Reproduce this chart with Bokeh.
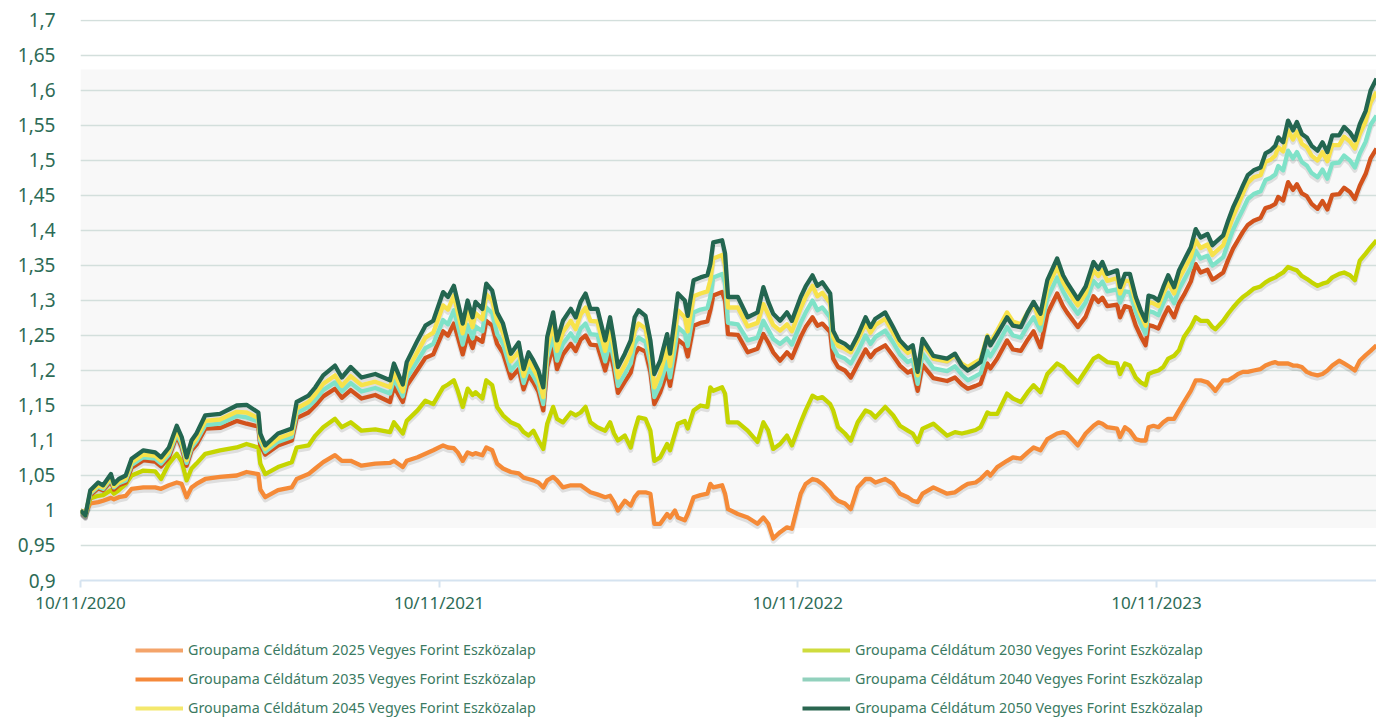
import pandas as pd
from bokeh.plotting import figure
from bokeh.layouts import column
from bokeh.models import (ColumnDataSource, FixedTicker, DatetimeTickFormatter, BoxAnnotation,
                          Legend, LegendItem, Range1d)
from bokeh.transform import dodge
from bokeh.embed import file_html
from bokeh.resources import INLINE

# ---------------- data ----------------
dates = [
    # 2020
    "2020-11-10", "2020-11-15", "2020-11-20", "2020-11-28", "2020-12-03", "2020-12-11", "2020-12-14", "2020-12-19", "2020-12-26",
    # 2021
    "2021-01-01", "2021-01-13", "2021-01-25", "2021-01-31", "2021-02-08", "2021-02-16", "2021-02-21", "2021-02-26", "2021-03-03", "2021-03-08",
    "2021-03-17", "2021-04-01", "2021-04-18", "2021-04-28", "2021-05-10", "2021-05-12", "2021-05-17", "2021-05-30", "2021-06-13", "2021-06-18",
    "2021-06-30", "2021-07-07", "2021-07-15", "2021-07-27", "2021-08-03", "2021-08-12", "2021-08-23", "2021-09-06", "2021-09-21", "2021-09-25",
    "2021-10-04", "2021-10-08", "2021-10-19", "2021-10-27", "2021-11-04", "2021-11-14", "2021-11-19", "2021-11-25", "2021-11-29", "2021-12-04",
    "2021-12-09", "2021-12-14", "2021-12-17", "2021-12-24", "2021-12-28",
    # 2022
    "2022-01-03", "2022-01-08", "2022-01-14", "2022-01-22", "2022-01-30", "2022-02-04", "2022-02-09", "2022-02-14", "2022-02-19", "2022-02-24",
    "2022-02-28", "2022-03-06", "2022-03-10", "2022-03-16", "2022-03-24", "2022-03-29", "2022-04-03", "2022-04-08", "2022-04-13", "2022-04-20",
    "2022-04-28", "2022-05-03", "2022-05-07", "2022-05-11", "2022-05-18", "2022-05-24", "2022-05-28", "2022-06-01", "2022-06-08", "2022-06-13",
    "2022-06-17", "2022-06-23", "2022-06-30", "2022-07-03", "2022-07-08", "2022-07-11", "2022-07-18", "2022-07-21", "2022-07-27", "2022-08-03",
    "2022-08-10", "2022-08-13", "2022-08-16", "2022-08-25", "2022-08-28", "2022-08-31", "2022-09-10", "2022-09-20", "2022-09-30", "2022-10-06",
    "2022-10-11", "2022-10-16", "2022-10-23", "2022-10-30", "2022-11-04", "2022-11-13", "2022-11-18", "2022-11-25", "2022-11-30", "2022-12-05",
    "2022-12-13", "2022-12-16", "2022-12-21", "2022-12-28",
    # 2023
    "2023-01-03", "2023-01-10", "2023-01-18", "2023-01-23", "2023-01-28", "2023-02-07", "2023-02-15", "2023-02-22", "2023-03-02", "2023-03-07",
    "2023-03-12", "2023-03-17", "2023-03-28", "2023-04-11", "2023-04-19", "2023-04-26", "2023-05-02", "2023-05-10", "2023-05-15", "2023-05-22",
    "2023-05-25", "2023-06-01", "2023-06-11", "2023-06-17", "2023-06-25", "2023-07-02", "2023-07-08", "2023-07-15", "2023-07-22", "2023-08-01",
    "2023-08-07", "2023-08-11", "2023-08-22", "2023-08-30", "2023-09-07", "2023-09-12", "2023-09-16", "2023-09-21", "2023-10-01", "2023-10-04",
    "2023-10-09", "2023-10-14", "2023-10-20", "2023-10-25", "2023-10-30", "2023-11-02", "2023-11-07", "2023-11-12", "2023-11-17", "2023-11-22",
    "2023-11-28", "2023-12-03", "2023-12-08", "2023-12-15", "2023-12-20", "2023-12-25",
    # 2024
    "2024-01-01", "2024-01-06", "2024-01-09", "2024-01-17", "2024-01-22", "2024-01-27", "2024-02-01", "2024-02-06", "2024-02-11", "2024-02-17",
    "2024-02-24", "2024-02-29", "2024-03-05", "2024-03-10", "2024-03-13", "2024-03-18", "2024-03-23", "2024-03-28", "2024-04-01", "2024-04-06",
    "2024-04-11", "2024-04-16", "2024-04-22", "2024-04-27", "2024-05-02", "2024-05-07", "2024-05-14", "2024-05-19", "2024-05-25", "2024-05-30",
    "2024-06-04", "2024-06-10", "2024-06-15", "2024-06-21",
]

v2050 = [
    1.000, 0.993, 1.029, 1.040, 1.036, 1.052, 1.038, 1.045, 1.050,
    1.074, 1.086, 1.083, 1.076, 1.090, 1.121, 1.105, 1.076, 1.100, 1.110,
    1.136, 1.138, 1.150, 1.151, 1.140, 1.110, 1.093, 1.110, 1.117, 1.155,
    1.164, 1.176, 1.193, 1.207, 1.190, 1.205, 1.190, 1.195, 1.186, 1.210,
    1.180, 1.212, 1.243, 1.264, 1.271, 1.312, 1.305, 1.321, 1.298, 1.267,
    1.300, 1.276, 1.298, 1.288, 1.324,
    1.314, 1.283, 1.267, 1.224, 1.240, 1.202, 1.226, 1.214, 1.200, 1.176,
    1.248, 1.283, 1.243, 1.271, 1.288, 1.276, 1.298, 1.310, 1.288, 1.288,
    1.243, 1.276, 1.243, 1.205, 1.224, 1.243, 1.276, 1.286, 1.278, 1.243,
    1.195, 1.214, 1.252, 1.224, 1.276, 1.310, 1.300, 1.278, 1.329, 1.333,
    1.336, 1.352, 1.383, 1.386, 1.367, 1.305, 1.305, 1.276, 1.283, 1.319,
    1.298, 1.281, 1.271, 1.283, 1.271, 1.305, 1.320, 1.336, 1.321, 1.326,
    1.310, 1.257, 1.243, 1.238,
    1.231, 1.250, 1.276, 1.262, 1.274, 1.283, 1.262, 1.243, 1.231, 1.236,
    1.198, 1.245, 1.221, 1.217, 1.224, 1.207, 1.200, 1.207, 1.212, 1.248,
    1.236, 1.252, 1.276, 1.264, 1.262, 1.283, 1.298, 1.281, 1.329, 1.360,
    1.336, 1.326, 1.302, 1.320, 1.355, 1.345, 1.355, 1.338, 1.343, 1.319,
    1.338, 1.338, 1.305, 1.286, 1.271, 1.307, 1.305, 1.300, 1.319, 1.336,
    1.319, 1.343, 1.357, 1.376, 1.402, 1.390,
    1.395, 1.379, 1.383, 1.393, 1.414, 1.433, 1.448, 1.464, 1.479, 1.486,
    1.490, 1.510, 1.514, 1.521, 1.533, 1.526, 1.557, 1.543, 1.555, 1.538,
    1.533, 1.521, 1.514, 1.526, 1.512, 1.536, 1.536, 1.548, 1.540, 1.529,
    1.552, 1.571, 1.600, 1.617,
]

v2045 = [
    1.000, 0.993, 1.026, 1.036, 1.033, 1.048, 1.035, 1.041, 1.046,
    1.069, 1.080, 1.078, 1.071, 1.084, 1.114, 1.099, 1.072, 1.094, 1.104,
    1.128, 1.130, 1.141, 1.140, 1.132, 1.104, 1.088, 1.103, 1.110, 1.146,
    1.155, 1.166, 1.181, 1.193, 1.178, 1.192, 1.179, 1.184, 1.176, 1.198,
    1.170, 1.199, 1.227, 1.247, 1.254, 1.293, 1.287, 1.307, 1.283, 1.253,
    1.284, 1.262, 1.282, 1.273, 1.309,
    1.300, 1.270, 1.254, 1.213, 1.227, 1.192, 1.214, 1.202, 1.189, 1.162,
    1.232, 1.266, 1.228, 1.255, 1.271, 1.259, 1.280, 1.290, 1.271, 1.270,
    1.228, 1.259, 1.229, 1.190, 1.208, 1.226, 1.257, 1.267, 1.260, 1.226,
    1.176, 1.196, 1.232, 1.206, 1.254, 1.286, 1.276, 1.256, 1.306, 1.310,
    1.313, 1.329, 1.360, 1.365, 1.350, 1.290, 1.290, 1.263, 1.268, 1.295,
    1.280, 1.265, 1.257, 1.266, 1.256, 1.289, 1.305, 1.321, 1.306, 1.311,
    1.296, 1.248, 1.235, 1.231,
    1.226, 1.243, 1.267, 1.254, 1.265, 1.274, 1.254, 1.236, 1.225, 1.230,
    1.193, 1.238, 1.217, 1.213, 1.222, 1.210, 1.205, 1.212, 1.216, 1.250,
    1.240, 1.257, 1.283, 1.270, 1.266, 1.283, 1.296, 1.267, 1.318, 1.348,
    1.326, 1.316, 1.293, 1.310, 1.343, 1.335, 1.343, 1.328, 1.332, 1.310,
    1.328, 1.328, 1.297, 1.279, 1.264, 1.298, 1.296, 1.292, 1.310, 1.325,
    1.310, 1.331, 1.344, 1.362, 1.386, 1.375,
    1.380, 1.365, 1.369, 1.379, 1.400, 1.420, 1.436, 1.453, 1.468, 1.476,
    1.479, 1.498, 1.501, 1.507, 1.519, 1.513, 1.543, 1.530, 1.541, 1.524,
    1.519, 1.507, 1.500, 1.512, 1.499, 1.522, 1.522, 1.534, 1.527, 1.517,
    1.538, 1.556, 1.583, 1.598,
]

v2040 = [
    1.000, 0.994, 1.024, 1.034, 1.031, 1.045, 1.033, 1.039, 1.043,
    1.065, 1.076, 1.074, 1.067, 1.080, 1.110, 1.094, 1.068, 1.090, 1.099,
    1.122, 1.124, 1.135, 1.133, 1.127, 1.099, 1.084, 1.098, 1.105, 1.139,
    1.148, 1.158, 1.172, 1.183, 1.170, 1.182, 1.170, 1.175, 1.167, 1.188,
    1.163, 1.189, 1.214, 1.232, 1.238, 1.272, 1.266, 1.286, 1.264, 1.237,
    1.265, 1.246, 1.263, 1.256, 1.290,
    1.282, 1.252, 1.238, 1.200, 1.213, 1.182, 1.203, 1.192, 1.179, 1.152,
    1.218, 1.249, 1.214, 1.238, 1.253, 1.242, 1.260, 1.267, 1.252, 1.251,
    1.213, 1.241, 1.214, 1.178, 1.195, 1.210, 1.238, 1.247, 1.241, 1.210,
    1.162, 1.180, 1.213, 1.190, 1.233, 1.262, 1.253, 1.235, 1.283, 1.287,
    1.289, 1.305, 1.333, 1.338, 1.325, 1.268, 1.266, 1.243, 1.247, 1.271,
    1.258, 1.245, 1.238, 1.246, 1.237, 1.268, 1.283, 1.300, 1.286, 1.290,
    1.276, 1.233, 1.221, 1.217,
    1.210, 1.227, 1.250, 1.238, 1.248, 1.257, 1.240, 1.223, 1.212, 1.216,
    1.181, 1.224, 1.203, 1.199, 1.206, 1.194, 1.186, 1.192, 1.196, 1.228,
    1.220, 1.236, 1.262, 1.250, 1.247, 1.264, 1.276, 1.257, 1.303, 1.333,
    1.313, 1.303, 1.281, 1.297, 1.328, 1.320, 1.327, 1.313, 1.316, 1.297,
    1.313, 1.312, 1.284, 1.267, 1.252, 1.285, 1.283, 1.279, 1.296, 1.311,
    1.296, 1.316, 1.329, 1.347, 1.371, 1.360,
    1.364, 1.350, 1.353, 1.362, 1.382, 1.401, 1.416, 1.430, 1.445, 1.452,
    1.456, 1.472, 1.475, 1.480, 1.492, 1.486, 1.514, 1.503, 1.512, 1.498,
    1.493, 1.482, 1.476, 1.487, 1.474, 1.496, 1.497, 1.507, 1.500, 1.490,
    1.510, 1.527, 1.551, 1.564,
]

v2035 = [
    1.000, 0.994, 1.022, 1.032, 1.029, 1.042, 1.030, 1.036, 1.040,
    1.061, 1.072, 1.070, 1.063, 1.076, 1.107, 1.090, 1.064, 1.086, 1.094,
    1.117, 1.118, 1.128, 1.124, 1.120, 1.094, 1.080, 1.093, 1.100, 1.132,
    1.140, 1.150, 1.163, 1.174, 1.161, 1.172, 1.160, 1.165, 1.155, 1.177,
    1.155, 1.178, 1.201, 1.218, 1.223, 1.256, 1.250, 1.267, 1.248, 1.223,
    1.250, 1.232, 1.247, 1.241, 1.271,
    1.264, 1.238, 1.225, 1.189, 1.202, 1.173, 1.193, 1.183, 1.170, 1.143,
    1.205, 1.234, 1.202, 1.223, 1.238, 1.228, 1.244, 1.250, 1.237, 1.236,
    1.200, 1.227, 1.202, 1.168, 1.184, 1.197, 1.223, 1.232, 1.227, 1.198,
    1.152, 1.169, 1.198, 1.178, 1.217, 1.244, 1.236, 1.220, 1.264, 1.268,
    1.270, 1.286, 1.307, 1.312, 1.300, 1.252, 1.251, 1.226, 1.231, 1.252,
    1.240, 1.226, 1.214, 1.226, 1.218, 1.248, 1.262, 1.276, 1.264, 1.267,
    1.255, 1.217, 1.205, 1.200,
    1.190, 1.209, 1.230, 1.219, 1.228, 1.236, 1.221, 1.207, 1.197, 1.201,
    1.171, 1.208, 1.189, 1.185, 1.190, 1.180, 1.174, 1.178, 1.181, 1.210,
    1.203, 1.217, 1.243, 1.230, 1.228, 1.244, 1.256, 1.233, 1.281, 1.310,
    1.292, 1.283, 1.262, 1.277, 1.306, 1.298, 1.304, 1.292, 1.294, 1.276,
    1.292, 1.290, 1.264, 1.249, 1.236, 1.265, 1.263, 1.260, 1.276, 1.290,
    1.276, 1.296, 1.308, 1.327, 1.352, 1.340,
    1.344, 1.330, 1.332, 1.340, 1.358, 1.374, 1.386, 1.398, 1.408, 1.414,
    1.418, 1.432, 1.434, 1.438, 1.448, 1.443, 1.469, 1.458, 1.466, 1.453,
    1.449, 1.438, 1.431, 1.442, 1.430, 1.451, 1.452, 1.461, 1.455, 1.445,
    1.464, 1.481, 1.503, 1.517,
]

v2030 = [
    1.000, 0.995, 1.017, 1.021, 1.022, 1.029, 1.024, 1.029, 1.038,
    1.050, 1.057, 1.056, 1.045, 1.067, 1.081, 1.070, 1.043, 1.060, 1.067,
    1.081, 1.086, 1.090, 1.095, 1.090, 1.067, 1.052, 1.062, 1.069, 1.090,
    1.093, 1.107, 1.119, 1.131, 1.119, 1.126, 1.114, 1.116, 1.112, 1.126,
    1.110, 1.128, 1.143, 1.157, 1.152, 1.176, 1.180, 1.186, 1.171, 1.148,
    1.174, 1.165, 1.169, 1.160, 1.186,
    1.179, 1.148, 1.136, 1.126, 1.121, 1.112, 1.107, 1.114, 1.100, 1.088,
    1.124, 1.148, 1.131, 1.126, 1.140, 1.136, 1.140, 1.148, 1.126, 1.119,
    1.114, 1.126, 1.110, 1.100, 1.107, 1.090, 1.114, 1.133, 1.131, 1.114,
    1.071, 1.076, 1.095, 1.086, 1.110, 1.124, 1.128, 1.117, 1.143, 1.150,
    1.148, 1.176, 1.171, 1.176, 1.167, 1.126, 1.126, 1.114, 1.098, 1.126,
    1.114, 1.088, 1.095, 1.107, 1.093, 1.126, 1.143, 1.164, 1.160, 1.162,
    1.152, 1.143, 1.119, 1.110,
    1.100, 1.126, 1.143, 1.140, 1.133, 1.148, 1.136, 1.121, 1.114, 1.110,
    1.098, 1.117, 1.124, 1.107, 1.112, 1.110, 1.112, 1.115, 1.119, 1.140,
    1.138, 1.138, 1.167, 1.160, 1.155, 1.169, 1.179, 1.169, 1.195, 1.210,
    1.205, 1.198, 1.183, 1.200, 1.217, 1.221, 1.217, 1.212, 1.210, 1.195,
    1.210, 1.207, 1.190, 1.183, 1.179, 1.195, 1.198, 1.200, 1.205, 1.217,
    1.221, 1.229, 1.248, 1.262, 1.276, 1.271,
    1.271, 1.262, 1.259, 1.271, 1.281, 1.290, 1.298, 1.305, 1.310, 1.317,
    1.320, 1.326, 1.330, 1.333, 1.336, 1.340, 1.348, 1.345, 1.343, 1.335,
    1.331, 1.326, 1.321, 1.324, 1.326, 1.333, 1.338, 1.340, 1.336, 1.329,
    1.357, 1.367, 1.376, 1.386,
]

v2025 = [
    1.000, 0.997, 1.010, 1.012, 1.014, 1.018, 1.016, 1.019, 1.021,
    1.031, 1.033, 1.033, 1.031, 1.036, 1.040, 1.038, 1.019, 1.033, 1.038,
    1.045, 1.048, 1.050, 1.055, 1.052, 1.030, 1.019, 1.029, 1.033, 1.045,
    1.052, 1.060, 1.069, 1.079, 1.071, 1.071, 1.064, 1.067, 1.068, 1.071,
    1.062, 1.071, 1.076, 1.081, 1.086, 1.093, 1.090, 1.089, 1.083, 1.071,
    1.083, 1.080, 1.082, 1.079, 1.090,
    1.086, 1.067, 1.060, 1.055, 1.053, 1.047, 1.045, 1.043, 1.040, 1.033,
    1.043, 1.048, 1.043, 1.033, 1.036, 1.036, 1.036, 1.031, 1.026, 1.023,
    1.019, 1.021, 1.012, 1.000, 1.014, 1.007, 1.019, 1.026, 1.026, 1.024,
    0.981, 0.981, 0.995, 0.990, 1.000, 0.990, 0.986, 0.995, 1.019, 1.022,
    1.024, 1.038, 1.033, 1.036, 1.024, 1.002, 0.995, 0.990, 0.981, 0.990,
    0.981, 0.960, 0.969, 0.976, 0.974, 1.024, 1.038, 1.045, 1.043, 1.038,
    1.026, 1.020, 1.014, 1.010,
    1.002, 1.033, 1.045, 1.045, 1.040, 1.045, 1.038, 1.024, 1.019, 1.014,
    1.012, 1.024, 1.033, 1.024, 1.026, 1.033, 1.038, 1.040, 1.045, 1.055,
    1.050, 1.062, 1.071, 1.076, 1.074, 1.083, 1.090, 1.086, 1.102, 1.110,
    1.112, 1.110, 1.093, 1.110, 1.121, 1.126, 1.124, 1.119, 1.117, 1.105,
    1.119, 1.114, 1.102, 1.100, 1.100, 1.119, 1.121, 1.119, 1.126, 1.131,
    1.131, 1.143, 1.155, 1.171, 1.186, 1.186,
    1.183, 1.176, 1.171, 1.186, 1.186, 1.190, 1.195, 1.198, 1.198, 1.200,
    1.202, 1.207, 1.210, 1.212, 1.210, 1.210, 1.210, 1.207, 1.207, 1.205,
    1.198, 1.195, 1.193, 1.195, 1.200, 1.207, 1.214, 1.210, 1.205, 1.200,
    1.214, 1.222, 1.228, 1.236,
]

series_names = [
    "Groupama Céldátum 2025 Vegyes Forint Eszközalap",
    "Groupama Céldátum 2030 Vegyes Forint Eszközalap",
    "Groupama Céldátum 2035 Vegyes Forint Eszközalap",
    "Groupama Céldátum 2040 Vegyes Forint Eszközalap",
    "Groupama Céldátum 2045 Vegyes Forint Eszközalap",
    "Groupama Céldátum 2050 Vegyes Forint Eszközalap",
]

y_ticks = [0.9, 0.95, 1.0, 1.05, 1.1, 1.15, 1.2, 1.25, 1.3, 1.35, 1.4, 1.45, 1.5, 1.55, 1.6, 1.65, 1.7]
y_labels = ["0,9", "0,95", "1", "1,05", "1,1", "1,15", "1,2", "1,25", "1,3", "1,35", "1,4", "1,45",
            "1,5", "1,55", "1,6", "1,65", "1,7"]
x_tick_dates = ["2020-11-10", "2021-11-10", "2022-11-10", "2023-11-10"]

# ---------------- styling ----------------
line_colors = ["#f58a37", "#c5d500", "#d2521c", "#7fe2c8", "#f7e24a", "#236650"]
legend_colors = ["#f4a46a", "#cfdc3e", "#f5893b", "#92d1bd", "#f4e86c", "#2a6650"]
TEXT = "#2d6b56"
FONT = "Noto Sans"

cols = ["v2025", "v2030", "v2035", "v2040", "v2045", "v2050"]
source = ColumnDataSource(data=dict(
    date=pd.to_datetime(dates),
    v2025=v2025, v2030=v2030, v2035=v2035, v2040=v2040, v2045=v2045, v2050=v2050,
))

x_start = pd.Timestamp(dates[0])
x_end = pd.Timestamp(dates[-1])

p = figure(width=1376, height=620, x_axis_type="datetime",
           x_range=Range1d(x_start, x_end), y_range=Range1d(0.9, 1.7014),
           output_backend="svg", toolbar_location=None,
           min_border_left=80, min_border_right=0, min_border_top=19, min_border_bottom=40,
           background_fill_color="white", border_fill_color="white", outline_line_color=None)

# light grey plotting band
p.add_layout(BoxAnnotation(bottom=0.975, top=1.63, fill_color="#f8f8f8", fill_alpha=1.0,
                           line_color=None, level="image"))

# grid
p.xgrid.visible = False
p.ygrid.grid_line_color = "#d3dfdc"
p.ygrid.grid_line_width = 1.5

# y axis
p.yaxis.ticker = FixedTicker(ticks=y_ticks)
p.yaxis.major_label_overrides = {t: l for t, l in zip(y_ticks, y_labels)}
p.yaxis.axis_line_color = None
p.yaxis.major_tick_line_color = None
p.yaxis.minor_tick_line_color = None
p.yaxis.major_tick_out = 0
p.yaxis.major_tick_in = 0
p.yaxis.major_label_standoff = 25
p.yaxis.major_label_text_font = FONT
p.yaxis.major_label_text_font_size = "19px"
p.yaxis.major_label_text_color = TEXT

# x axis
p.xaxis.ticker = FixedTicker(ticks=[pd.Timestamp(d).value / 1e6 for d in x_tick_dates])
fmt = "%d/%m/%Y"
p.xaxis.formatter = DatetimeTickFormatter(milliseconds=fmt, seconds=fmt, minsec=fmt, minutes=fmt,
                                          hourmin=fmt, hours=fmt, days=fmt, months=fmt, years=fmt)
p.xaxis.axis_line_color = "#d5e3f0"
p.xaxis.axis_line_width = 2
p.xaxis.major_tick_line_color = "#d5e3f0"
p.xaxis.major_tick_line_width = 2
p.xaxis.major_tick_out = 7
p.xaxis.major_tick_in = 0
p.xaxis.minor_tick_line_color = None
p.xaxis.major_label_standoff = 3
p.xaxis.major_label_text_font = FONT
p.xaxis.major_label_text_font_size = "17px"
p.xaxis.major_label_text_color = TEXT

# shadows then lines
for col in cols:
    p.line(x="date", y=dodge(col, -0.004), source=source, line_color="#000000",
           line_alpha=0.10, line_width=5, line_join="round")
for col, c in zip(cols, line_colors):
    p.line(x="date", y=col, source=source, line_color=c, line_width=4.3, line_join="round")

# ---------------- legend strip below the chart ----------------
lg = figure(width=1376, height=98, x_range=Range1d(0, 1), y_range=Range1d(0, 1),
            output_backend="svg", toolbar_location=None,
            x_axis_location=None, y_axis_location=None,
            min_border_left=0, min_border_right=0, min_border_top=0, min_border_bottom=0,
            background_fill_color="white", border_fill_color="white", outline_line_color=None)
lg.xgrid.visible = False
lg.ygrid.visible = False

# swatch renderers: same series data, but far outside this strip's ranges, so only the legend glyph shows
swatches = [lg.line(x="date", y=col, source=source, line_color=c, line_width=4)
            for col, c in zip(cols, legend_colors)]

FRAME_LEFT = 80  # frames of the column are aligned with the chart's frame

def make_legend(idx, x_page):
    return Legend(items=[LegendItem(label=series_names[i], renderers=[swatches[i]]) for i in idx],
                  location=(x_page - FRAME_LEFT, 1), orientation="vertical",
                  glyph_width=48, glyph_height=18, label_height=18, spacing=10,
                  padding=0, margin=0, label_standoff=5,
                  border_line_color=None, background_fill_alpha=0.0,
                  label_text_font=FONT, label_text_font_size="14.3px", label_text_color="#3b7a62")

lg.add_layout(make_legend([0, 2, 4], 135))
lg.add_layout(make_legend([1, 3, 5], 802))

layout = column(p, lg)
open("out.html", "w").write(file_html(layout, INLINE))
